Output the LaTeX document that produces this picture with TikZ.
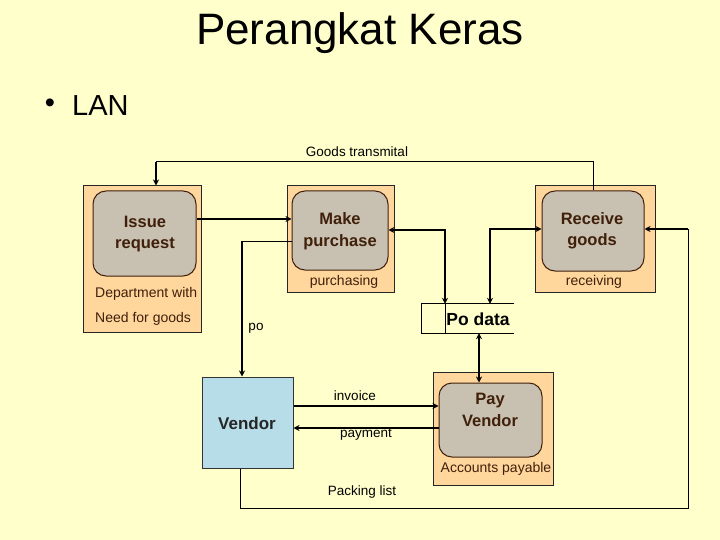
\documentclass[tikz,border=0pt]{standalone}
\usepackage{fontspec}
\setmainfont{Liberation Sans}
\usetikzlibrary{arrows.meta}
\definecolor{bgc}{RGB}{255,255,204}
\definecolor{orangec}{RGB}{255,214,156}
\definecolor{grayc}{RGB}{200,192,176}
\definecolor{bluec}{RGB}{183,221,232}
\definecolor{brownc}{RGB}{64,32,10}
\newcommand{\fsz}[1]{\fontsize{#1}{#1}\selectfont}
\tikzset{
  outerbox/.style={draw=black!85, fill=orangec, line width=1pt, inner sep=0pt},
  innerbox/.style={draw=brownc, fill=grayc, line width=1pt, rounded corners=13pt, inner sep=0pt},
  proctext/.style={text=brownc, font=\fsz{16.5}\bfseries, align=center, inner sep=0pt},
  lbl/.style={font=\fsz{13.5}, inner sep=0pt},
  boxlbl/.style={font=\fsz{14}, text=brownc, inner sep=0pt},
  thickline/.style={line width=2pt, -{Stealth[length=6pt,width=6pt]}},
  thinline/.style={line width=1pt},
  dbl/.style={line width=2pt, {Stealth[length=6pt,width=6pt]}-{Stealth[length=6pt,width=6pt]}}
}
\begin{document}
\begin{tikzpicture}[x=1pt,y=-1pt]
\fill[bgc] (0,0) rectangle (720,540);
\useasboundingbox (0,0) rectangle (720,540);

% title
\node[font=\fsz{44}, inner sep=0pt] (title) at (360,33) {Perangkat Keras};
\node[font=\fsz{29}, inner sep=0pt] (bullet) at (50,106) {•};
\node[font=\fsz{29}, inner sep=0pt, anchor=west] (lan) at (72,106) {LAN};

% helper coordinates
\coordinate (y219) at (0,219);
\coordinate (y229) at (0,229);
\coordinate (y230) at (0,230);
\coordinate (y241) at (0,241);
\coordinate (y406) at (0,406);
\coordinate (y428) at (0,428);
\coordinate (y508) at (0,508);
\coordinate (x240) at (240,0);
\coordinate (x445) at (445,0);
\coordinate (x479) at (479,0);
\coordinate (x490) at (490,0);
\coordinate (x688) at (688,0);

% boxes
\node[outerbox, minimum width=118pt, minimum height=146pt] (deptO) at (142,259) {};
\node[innerbox, minimum width=103pt, minimum height=85pt] (issueI) at (144.5,233.5) {};
\node[proctext] (issueT) at (145,234) {Issue\\[5pt]request};
\node[font=\fsz{14}, text=brownc, inner sep=0pt, anchor=west] (deptL1) at (95,294) {Department with};
\node[font=\fsz{14}, text=brownc, inner sep=0pt, anchor=west] (deptL2) at (95,319) {Need for goods};

\node[outerbox, minimum width=107pt, minimum height=106pt] (makeO) at (340.5,239) {};
\node[innerbox, minimum width=96pt, minimum height=79pt] (makeI) at (340,230.5) {};
\node[proctext] (makeT) at (340,231) {Make\\[5pt]purchase};
\node[boxlbl] (purchL) at (344,282) {purchasing};

\node[outerbox, minimum width=120pt, minimum height=106pt] (recO) at (595,239) {};
\node[innerbox, minimum width=102pt, minimum height=80pt] (recI) at (593,231) {};
\node[proctext] (recT) at (592,231) {Receive\\[5pt]goods};
\node[boxlbl] (recL) at (594,282) {receiving};

\node[outerbox, minimum width=120pt, minimum height=113pt] (payO) at (493,428.5) {};
\node[innerbox, minimum width=103pt, minimum height=74pt] (payI) at (490.5,420) {};
\node[proctext] (payT) at (490,410) {Pay\\[5pt]Vendor};
\node[boxlbl] (payL) at (496,469) {Accounts payable};

\node[draw=black!80, fill=bluec, line width=1pt, minimum width=91pt, minimum height=91pt, inner sep=0pt] (vendor) at (247.5,422.5) {};
\node[font=\fsz{17}\bfseries, text=black!85, inner sep=0pt] (vendorT) at (247,423) {Vendor};

% Po data store
\node[minimum width=92pt, minimum height=29pt, inner sep=0pt] (podata) at (468,318.5) {};
\draw[line width=1pt] (podata.north east) -- (podata.north west) -- (podata.south west) -- (podata.south east);
\draw[line width=1pt] ([xshift=24pt]podata.north west) -- ([xshift=24pt]podata.south west);
\node[font=\fsz{17.5}\bfseries, inner sep=0pt] (podataT) at (478,319) {Po data};

% connectors
\coordinate (gtL) at (156,162);
\draw[thinline] (recI.north) |- (gtL);
\draw[thickline] (gtL) -- (gtL |- deptO.north);
\node[lbl] (gtT) at (357,152) {Goods transmital};

\draw[thickline] (issueI.east |- y219) -- (makeI.west |- y219);

\coordinate (poC) at (242,241);
\draw[thinline] (makeI.west |- y241) -- (poC);
\draw[thickline] (poC) -- (poC |- vendor.north);
\node[lbl] (poT) at (256,328) {po};

\draw[dbl] (makeI.east |- y230) -| (x445 |- podata.north);
\draw[dbl] (x490 |- podata.north) |- (recI.west |- y229);
\draw[dbl] (x479 |- podata.south) -- (x479 |- payI.north);

\draw[thickline] (vendor.east |- y406) -- (payI.west |- y406);
\node[lbl] (invT) at (355,396) {invoice};
\draw[thickline] (payI.west |- y428) -- (vendor.east |- y428);
\node[lbl] (payT2) at (366,435) {payment};

\coordinate (plC) at (688,229);
\draw[thinline] (x240 |- vendor.south) |- (x688 |- y508) -- (plC);
\draw[thickline] (plC) -- (recI.east |- y229);
\node[lbl] (plT) at (362,492) {Packing list};
\end{tikzpicture}
\end{document}
